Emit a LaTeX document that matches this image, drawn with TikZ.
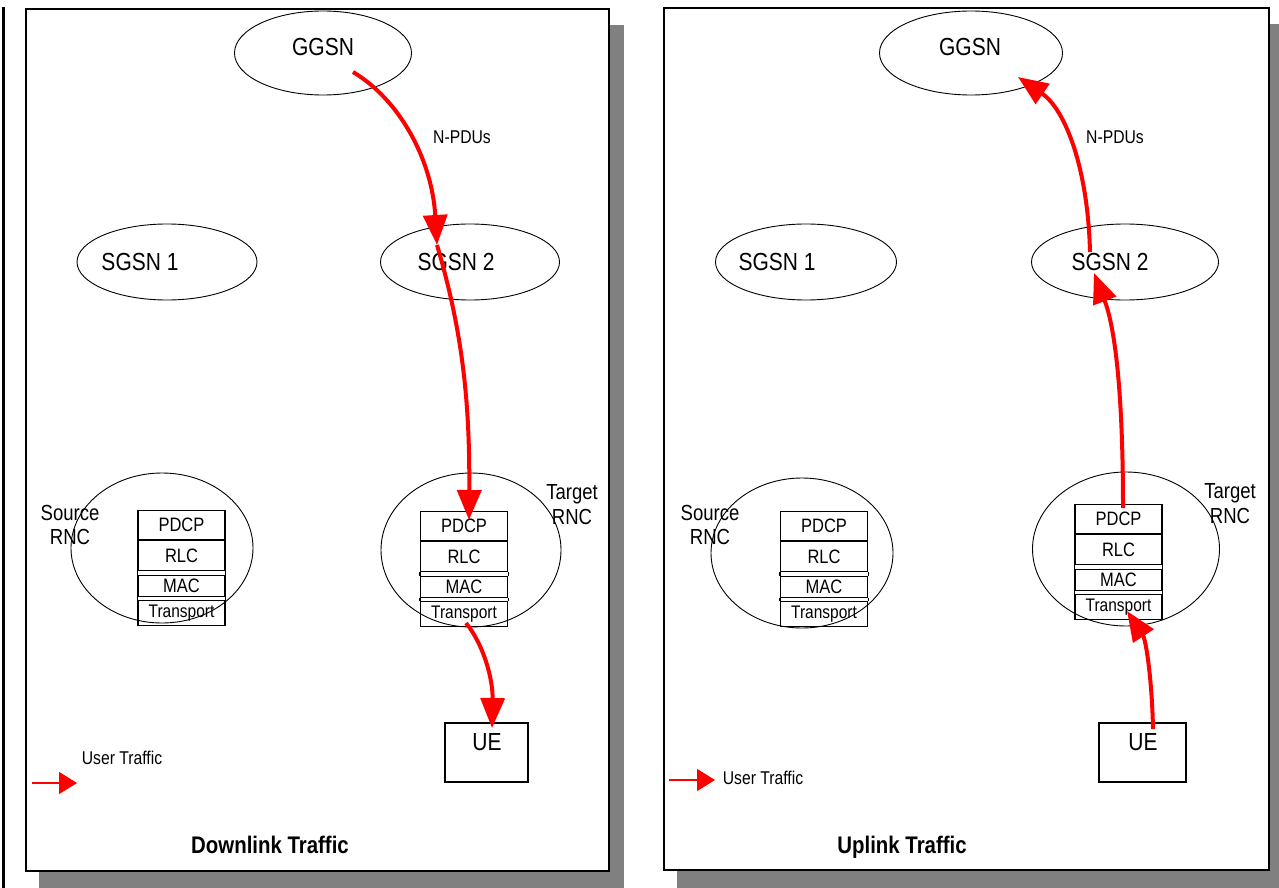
\documentclass[tikz,border=0pt]{standalone}
\usepackage{fontspec}
\setmainfont[FakeStretch=0.85]{Liberation Sans}
\usetikzlibrary{arrows.meta,shapes.geometric}
\definecolor{shadowgray}{RGB}{128,128,128}
\newcommand\fsz[1]{\fontsize{#1}{#1}\selectfont}
\newcommand\layerstack[3]{%
  \node[lyr,minimum height=29pt] (#1P) at (#2,#3) {\fsz{19.4}PDCP};
  \node[lyr,minimum height=30pt] (#1R) at (#1P.south) {\fsz{19.4}RLC};
  \node[lyr,minimum height=21pt] (#1M) at ([yshift=-4pt]#1R.south) {\fsz{19.4}MAC};
  \node[lyr,minimum height=25pt] (#1T) at ([yshift=-3pt]#1M.south) {\fsz{18.2}Transport};
  \draw[line width=1.1pt] (#1R.south west) -- (#1M.north west) (#1R.south east) -- (#1M.north east)
        (#1M.south west) -- (#1T.north west) (#1M.south east) -- (#1T.north east);
}
\begin{document}
\begin{tikzpicture}[x=1pt,y=-1pt,
  frame/.style={draw=black,line width=1.6pt,fill=white},
  ell/.style={draw,ellipse,line width=0.9pt,inner sep=0pt},
  lyr/.style={draw,line width=1.1pt,rectangle,inner sep=0pt,minimum width=87pt,anchor=north},
  big/.style={font=\fsz{24.7}},
  mid/.style={font=\fsz{21.8},align=center},
  small/.style={font=\fsz{18.5}},
  title/.style={font=\bfseries\fsz{24}},
  uebox/.style={draw,line width=1.1pt,rectangle,minimum width=83pt,minimum height=59pt,inner sep=0pt},
  flow/.style={draw=red,line width=4pt,-{Triangle[length=30pt,width=24pt]}},
  legend/.style={draw=red,line width=1.5pt,-{Triangle[length=18pt,width=22pt]}},
]
\useasboundingbox (0,0) rectangle (1279,888);
\fill[white] (0,0) rectangle (1279,888);
% left margin rule
\draw[line width=2.4pt] (3.5,7) -- (3.5,888);
% shadows
\fill[shadowgray] (39,25) rectangle (624,888);
\fill[shadowgray] (677,24) rectangle (1284,888);
% frames
\draw[frame] (26,9) rectangle (609,871);
\draw[frame] (664,8) rectangle (1269,870);

% ================= LEFT: Downlink =================
\node[ell,minimum width=177pt,minimum height=84pt] (LG) at (323,53) {};
\node[big] (LGt) at (323,47) {GGSN};
\node[ell,minimum width=180pt,minimum height=76pt] (LS1) at (167,262) {};
\node[big] (LS1t) at (140,262) {SGSN 1};
\node[ell,minimum width=179pt,minimum height=76pt] (LS2) at (470,262) {};
\node[big] (LS2t) at (456,262) {SGSN 2};
\node[ell,minimum width=182pt,minimum height=150pt] (LSR) at (162,548) {};
\node[mid] (LSRt) at (70,525) {Source\\[3pt]RNC};
\node[ell,minimum width=180pt,minimum height=154pt] (LTR) at (471,550) {};
\node[mid] (LTRt) at (572,505) {Target\\[3pt]RNC};
\layerstack{LA}{181.5}{510}
\layerstack{LB}{464}{511}
\node[uebox] (LUE) at (486.5,752.5) {};
\node[big] (LUEt) at (487,742) {UE};
\node[small] (LNP) at (462,137) {N-PDUs};
\node[small] (LUT) at (122,758) {User Traffic};
\coordinate (LL1) at (32,783);
\coordinate (LL2) at (77,783);
\draw[legend] (LL1) -- (LL2);
\node[title,anchor=base] (LTi) at (270,853) {Downlink Traffic};

\coordinate (la) at (353,72);
\coordinate (lb) at (437,245);
\coordinate (lc) at (469,520);
\coordinate (ld) at (466,623);
\coordinate (le) at (492,728);
\draw[flow] (la) .. controls (400,100) and (432,160) .. (lb);
\draw[flow] (lb) .. controls (462,330) and (470,400) .. (lc);
\draw[flow] (ld) .. controls (484,645) and (493,680) .. (le);

% ================= RIGHT: Uplink =================
\node[ell,minimum width=183pt,minimum height=84pt] (RG) at (971,53) {};
\node[big] (RGt) at (970,47) {GGSN};
\node[ell,minimum width=181pt,minimum height=76pt] (RS1) at (806,262) {};
\node[big] (RS1t) at (777,262) {SGSN 1};
\node[ell,minimum width=187pt,minimum height=76pt] (RS2) at (1125,262) {};
\node[big] (RS2t) at (1110,262) {SGSN 2};
\node[ell,minimum width=182pt,minimum height=150pt] (RSR) at (802,553) {};
\node[mid] (RSRt) at (710,525) {Source\\[3pt]RNC};
\node[ell,minimum width=187pt,minimum height=154pt] (RTR) at (1126,549) {};
\node[mid] (RTRt) at (1230,504) {Target\\[3pt]RNC};
\layerstack{RA}{824}{511}
\layerstack{RB}{1118.5}{504}
\node[uebox,minimum width=87pt] (RUE) at (1142.5,752.5) {};
\node[big] (RUEt) at (1143,742) {UE};
\node[small] (RNP) at (1115,137) {N-PDUs};
\node[small] (RUT) at (763,778) {User Traffic};
\coordinate (RL1) at (669,780);
\coordinate (RL2) at (715,780);
\draw[legend] (RL1) -- (RL2);
\node[title,anchor=base] (RTi) at (902,853) {Uplink Traffic};

\coordinate (ra) at (1153,729);
\coordinate (rb) at (1127,611);
\coordinate (rc) at (1123,508);
\coordinate (rd) at (1094,273);
\coordinate (re) at (1090,252);
\coordinate (rf) at (1018,77);
\draw[flow] (ra) .. controls (1152,680) and (1146,640) .. (rb);
\draw[flow] (rc) .. controls (1123,400) and (1116,330) .. (rd);
\draw[flow] (re) .. controls (1088,170) and (1066,110) .. (rf);
\end{tikzpicture}
\end{document}
